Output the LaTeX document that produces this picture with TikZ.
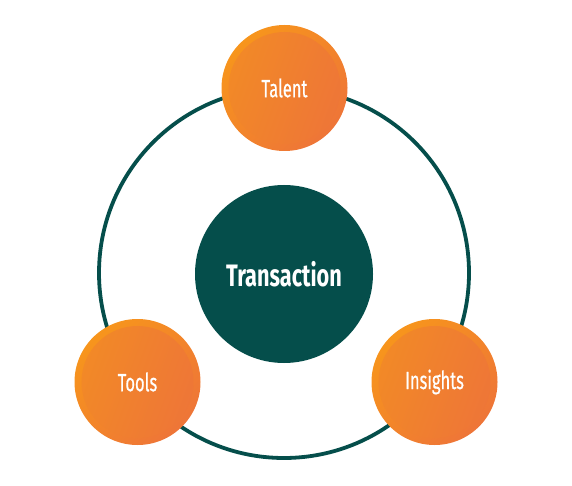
\documentclass[tikz,border=0pt]{standalone}
\usepackage{fontspec}
\setmainfont{Fira Sans}
\newfontfamily\petalfont[FakeStretch=0.66,FakeBold=0.6]{Fira Sans}
\newfontfamily\hubfont[FakeStretch=0.70]{Fira Sans}
\usetikzlibrary{calc}
\definecolor{tealdark}{HTML}{054E4B}
\definecolor{orangelight}{HTML}{F7951C}
\definecolor{orangemid}{HTML}{F28A26}
\definecolor{orangedark}{HTML}{EE7538}

\tikzset{
  ring/.style={draw=tealdark, line width=3.8pt},
  hubdisc/.style={circle, fill=tealdark, minimum size=178pt, inner sep=0pt,
    text=white, font=\hubfont\bfseries\fontsize{31}{34}\selectfont},
  petal/.style={circle, minimum size=126pt, inner sep=0pt,
    top color=orangelight, bottom color=orangedark, shading angle=45,
    path picture={\shade[top color=orangemid, bottom color=orangedark, shading angle=70]
      (path picture bounding box.center) circle[radius=56pt];},
    text=white, font=\petalfont\fontsize{25}{28}\selectfont}
}

\begin{document}
\begin{tikzpicture}[x=1pt,y=-1pt]
	\useasboundingbox (0,0) rectangle (572,486);
	
	% Hub
	\node (hub) at (284,274) [hubdisc] {Transaction};
	
	% Ring
	\draw[ring] ($(hub.center)+(0,-1)$) circle[radius=185pt];
	
	% Petals
	\node (talent) at (284.5,88) [petal] {Talent};
	\node (tools) at (137.5,382) [petal] {Tools};
	\node (insights) at (434.5,382) [petal] {Insights};
\end{tikzpicture}
\end{document}
